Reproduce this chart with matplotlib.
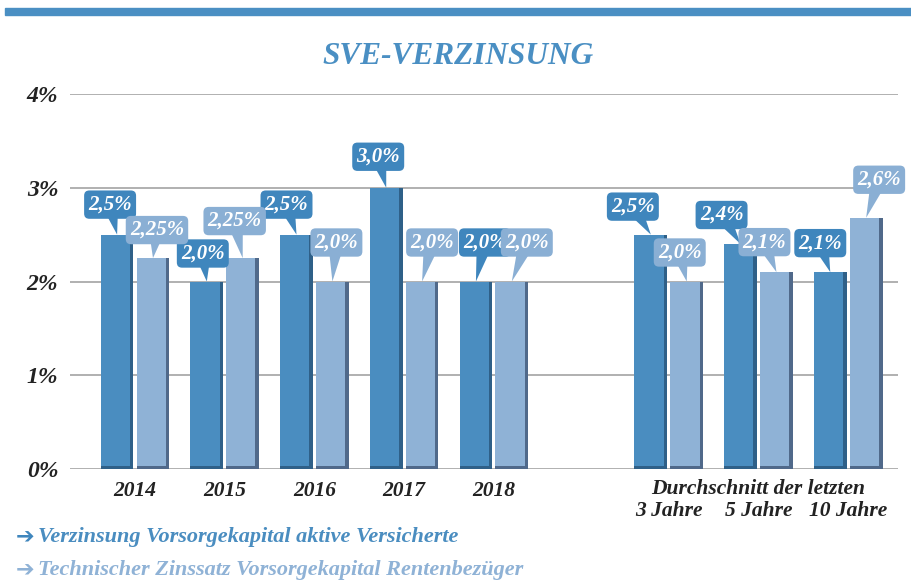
import matplotlib
matplotlib.use("Agg")
import matplotlib.pyplot as plt
from matplotlib.patches import Rectangle

categories = ["2014", "2015", "2016", "2017", "2018", "3 Jahre", "5 Jahre", "10 Jahre"]
aktive = [2.5, 2.0, 2.5, 3.0, 2.0, 2.5, 2.4, 2.1]
rentner = [2.25, 2.25, 2.0, 2.0, 2.0, 2.0, 2.1, 2.68]
aktive_labels = ["2,5%", "2,0%", "2,5%", "3,0%", "2,0%", "2,5%", "2,4%", "2,1%"]
rentner_labels = ["2,25%", "2,25%", "2,0%", "2,0%", "2,0%", "2,0%", "2,1%", "2,6%"]
yticks = [0, 1, 2, 3, 4]
ytick_labels = ["0%", "1%", "2%", "3%", "4%"]
title = "SVE-VERZINSUNG"
avg_header = "Durchschnitt der letzten"
legend_texts = ["Verzinsung Vorsorgekapital aktive Versicherte",
                "Technischer Zinssatz Vorsorgekapital Rentenbezüger"]

# layout
xpos = [0, 1, 2, 3, 4, 5.95, 6.95, 7.95]
W = 0.365
OFF = 0.2
DARK = "#4a8dc0"
DARK_SIDE = "#2f6088"
LIGHT = "#8fb2d6"
LIGHT_SIDE = "#50698a"
BOX_DARK = "#3f86bd"
BOX_LIGHT = "#8aafd4"
SERIF = ["Liberation Serif", "DejaVu Serif"]

# callout offsets (pixels: dx of box center from bar center, dy above bar top)
off_dark = [(-7, 30), (-4, 28), (-10, 30), (-8, 31), (9, 39), (-18, 28), (-19, 29), (-10, 29)]
off_light = [(4, 28), (-8, 37), (4, 39), (10, 39), (15, 39), (-7, 29), (-12, 30), (13, 38)]

DPI = 100
fig = plt.figure(figsize=(9.11, 5.83), dpi=DPI)
ax = fig.add_axes([70 / 911, 1 - 469 / 583, (898 - 70) / 911, (469 - 94) / 583])

# top band
fig.patches.append(Rectangle((5 / 911, 1 - 15 / 583), 906 / 911, 7 / 583,
                             transform=fig.transFigure, color="#4a8fc3", zorder=0))

ax.set_xlim(-0.725, 8.505)
ax.set_ylim(0, 4)
for y in yticks:
    ax.axhline(y, color="#b0b0b0", lw=1.4, zorder=0)
for s in ax.spines.values():
    s.set_visible(False)
ax.set_xticks([])
ax.set_yticks(yticks)
ax.set_yticklabels(ytick_labels, fontfamily=SERIF, fontweight="bold", fontstyle="italic",
                   fontsize=17, color="#222222")
ax.tick_params(axis="y", length=0, pad=8.5)


def draw_bars(xs, vals, color, side):
    ax.bar(xs, vals, width=W, color=color, zorder=2)
    side_w = 0.04
    ax.bar([x + W / 2 - side_w / 2 for x in xs], vals, width=side_w, color=side, zorder=3)
    ax.bar(xs, [0.03] * len(vals), width=W, color=side, zorder=3)


xd = [x - OFF for x in xpos]
xl = [x + OFF for x in xpos]
draw_bars(xd, aktive, DARK, DARK_SIDE)
draw_bars(xl, rentner, LIGHT, LIGHT_SIDE)

pt = 72 / DPI


def callouts(xs, vals, labels, offs, boxc):
    for x, v, lab, (dx, dy) in zip(xs, vals, labels, offs):
        ax.annotate(lab, xy=(x, v), xycoords="data",
                    xytext=(dx * pt, dy * pt), textcoords="offset points",
                    ha="center", va="center", color="white", fontsize=15,
                    fontfamily=SERIF, fontweight="bold", fontstyle="italic",
                    bbox=dict(boxstyle="round,pad=0.2,rounding_size=0.25", fc=boxc, ec="none"),
                    arrowprops=dict(arrowstyle="wedge,tail_width=0.8,shrink_factor=0.5",
                                    fc=boxc, ec="none", relpos=(0.5, 0.5),
                                    patchA=None, shrinkA=0, shrinkB=0),
                    zorder=5)


callouts(xd, aktive, aktive_labels, off_dark, BOX_DARK)
callouts(xl, rentner, rentner_labels, off_light, BOX_LIGHT)

# x labels
lab_kw = dict(fontfamily=SERIF, fontweight="bold", fontstyle="italic", fontsize=15.5,
              color="#222222", ha="center", va="center")
for x, c in zip(xpos[:5], categories[:5]):
    ax.text(x, -0.23, c, **lab_kw)
ax.text((xpos[5] + xpos[7]) / 2, -0.21, avg_header, **lab_kw)
for x, c in zip(xpos[5:], categories[5:]):
    ax.text(x, -0.445, c, **lab_kw)

# title
fig.text(458 / 911, 1 - 57 / 583, title, color="#4a8fc3", fontsize=22.5, fontfamily=SERIF,
         fontweight="bold", fontstyle="italic", ha="center", va="center")

# legend texts
fig.text(16 / 911, 1 - 537 / 583, "\u2794", color="#3f86bd", fontsize=16,
         fontfamily=["DejaVu Sans"], fontweight="bold", ha="left", va="center")
fig.text(38 / 911, 1 - 537 / 583, legend_texts[0], color="#4a8dc0", fontsize=16,
         fontfamily=SERIF, fontweight="bold", fontstyle="italic", ha="left", va="center")
fig.text(16 / 911, 1 - 570 / 583, "\u2794", color="#8fb2d6", fontsize=16,
         fontfamily=["DejaVu Sans"], fontweight="bold", ha="left", va="center")
fig.text(38 / 911, 1 - 570 / 583, legend_texts[1], color="#8fb2d6", fontsize=16,
         fontfamily=SERIF, fontweight="bold", fontstyle="italic", ha="left", va="center")

fig.savefig("out.png", dpi=DPI)
